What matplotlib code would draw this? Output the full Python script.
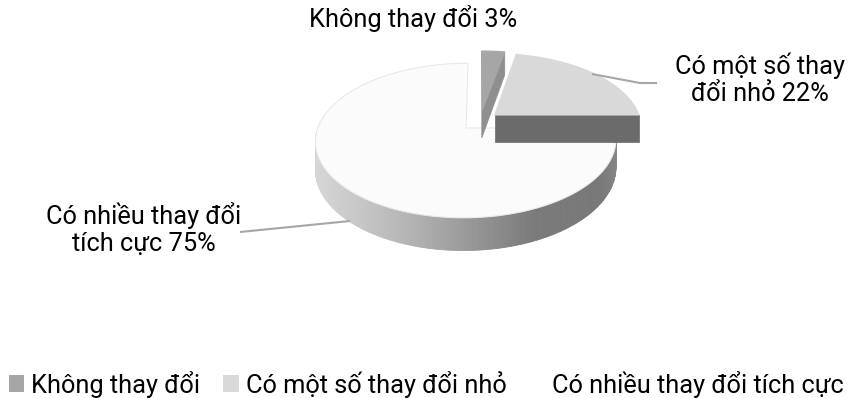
import numpy as np
import matplotlib
matplotlib.use("Agg")
import matplotlib.pyplot as plt
from matplotlib.patches import Polygon, Patch

# ---- data ----
categories = ["Không thay đổi", "Có một số thay đổi nhỏ", "Có nhiều thay đổi tích cực"]
values = [3, 22, 75]
label_texts = ["Không thay đổi 3%", "Có một số thay\nđổi nhỏ 22%", "Có nhiều thay đổi\ntích cực 75%"]

# ---- style ----
top_colors = ['#a6a6a6', '#d9d9d9', '#fbfbfb']
face_colors = ['#8f8f8f', '#6b6b6b', '#c0c0c0']
legend_colors = ['#a6a6a6', '#d9d9d9', '#ffffff']
plt.rcParams['font.family'] = ['Roboto', 'DejaVu Sans']
FS = 18.3

fig = plt.figure(figsize=(8.57, 3.98), dpi=100)
ax = fig.add_axes([0, 0, 1, 1])
ax.set_xlim(0, 857)
ax.set_ylim(398, 0)
ax.axis('off')

# projection parameters (pixel space)
CX, CY, R, A, K, D = 480, 121, 146, 73, 0.16, 27
E = 0.133


def proj(X, Z, h):
    den = 1 + K * Z
    return CX + R * X / den, CY + (-A * Z + D * h) / den


def side_gray(x):
    return np.interp(x, [316, 400, 467, 533, 600, 618], [0.84, 0.72, 0.60, 0.48, 0.47, 0.53])


total = float(sum(values))
fracs = np.array(values) / total
starts = np.concatenate([[0], np.cumsum(fracs)[:-1]]) * 2 * np.pi
ends = np.cumsum(fracs) * 2 * np.pi

order = [2, 1, 0]
for i in order:
    a, b = starts[i], ends[i]
    m = 0.5 * (a + b)
    ox, oz = E * np.sin(m), E * np.cos(m)
    n = max(int((b - a) / np.radians(1.0)), 4)
    th = np.linspace(a, b, n)
    for t1, t2 in zip(th[:-1], th[1:]):
        tm = 0.5 * (t1 + t2)
        if np.cos(tm) >= 0:
            continue
        p1 = proj(ox + np.sin(t1), oz + np.cos(t1), 0)
        p2 = proj(ox + np.sin(t2), oz + np.cos(t2), 0)
        p3 = proj(ox + np.sin(t2), oz + np.cos(t2), 1)
        p4 = proj(ox + np.sin(t1), oz + np.cos(t1), 1)
        g = float(side_gray(0.5 * (p1[0] + p2[0])))
        col = (g, g, g)
        ax.add_patch(Polygon([p1, p2, p3, p4], closed=True, facecolor=col,
                             edgecolor=col, lw=0.6))
    for c, sgn in ((a, -1), (b, 1)):
        nz = -sgn * np.sin(c)
        if nz < -1e-3:
            q = [proj(ox, oz, 0), proj(ox + np.sin(c), oz + np.cos(c), 0),
                 proj(ox + np.sin(c), oz + np.cos(c), 1), proj(ox, oz, 1)]
            ax.add_patch(Polygon(q, closed=True, facecolor=face_colors[i],
                                 edgecolor=face_colors[i], lw=0.5))
    pts = [proj(ox, oz, 0)] + [proj(ox + np.sin(t), oz + np.cos(t), 0) for t in th]
    ax.add_patch(Polygon(pts, closed=True, facecolor=top_colors[i],
                         edgecolor='#e9e9e9' if i == 2 else top_colors[i], lw=0.8))

# leader lines
ax.plot([592, 640, 657], [74, 83, 83], color='#a6a6a6', lw=1.5, solid_capstyle='butt')
ax.plot([240, 350], [232, 221], color='#a6a6a6', lw=1.5, solid_capstyle='butt')

# data labels
ax.text(413, 18, label_texts[0], ha='center', va='center', fontsize=FS, color='#000000')
ax.text(760, 79, label_texts[1], ha='center', va='center', fontsize=FS, color='#000000',
        linespacing=1.15)
ax.text(144, 229, label_texts[2], ha='center', va='center', fontsize=FS, color='#000000',
        linespacing=1.15)

# legend
handles = [Patch(facecolor=c, edgecolor='none') for c in legend_colors]
fig.legend(handles, categories, loc='center left', bbox_to_anchor=(9 / 857, 1 - 384 / 398),
           ncol=3, frameon=False, fontsize=FS, handlelength=0.6, handleheight=0.6,
           handletextpad=0.28, columnspacing=0.9, borderaxespad=0, borderpad=0)

fig.savefig('out.png', dpi=100, facecolor='white')
